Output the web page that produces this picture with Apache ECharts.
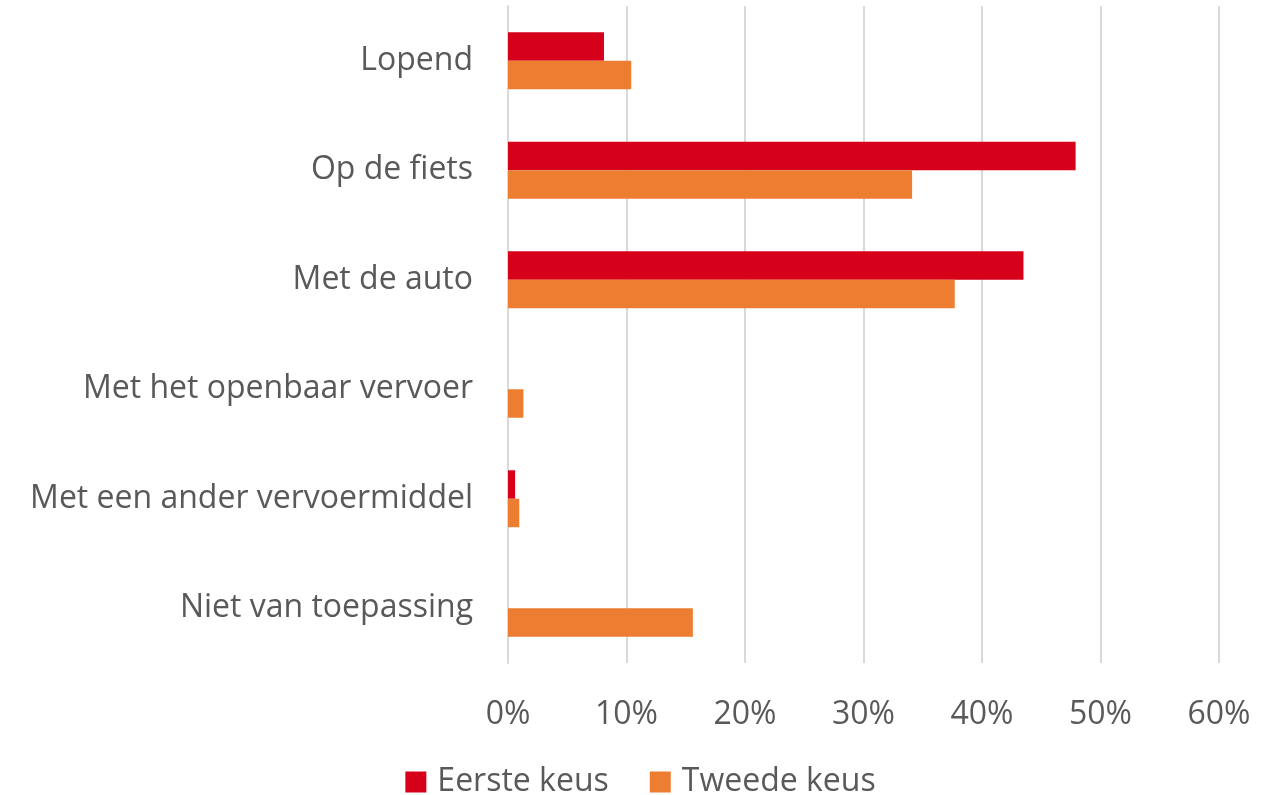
<!DOCTYPE html>
<html>
<head>
<meta charset="utf-8">
<script src="https://cdn.jsdelivr.net/npm/echarts@6/dist/echarts.min.js"></script>
<style>
  html, body { margin: 0; padding: 0; background: #fff; }
  #chart { width: 1281px; height: 795px; }
</style>
</head>
<body>
<div id="chart"></div>
<script>
	var categories = ['Lopend', 'Op de fiets', 'Met de auto', 'Met het openbaar vervoer', 'Met een ander vervoermiddel', 'Niet van toepassing'];
	var eersteKeus = [8.1, 47.9, 43.5, 0, 0.6, 0];
	var tweedeKeus = [10.4, 34.1, 37.7, 1.3, 0.95, 15.6];
	var xTicks = { min: 0, max: 60, interval: 10 };

	var fontFam = '"Open Sans", "Liberation Sans", sans-serif';

	var option = {
		animation: false,
		textStyle: { fontFamily: fontFam },
		grid: {
			top: 6,
			right: 62,
			bottom: 132,
			left: 508
		},
		legend: {
			bottom: -8,
			left: 'center',
			itemWidth: 21,
			itemHeight: 21,
			itemGap: 41,
			icon: 'rect',
			textStyle: { fontSize: 32, color: '#595959', fontFamily: fontFam, padding: [0, 0, 0, 6] },
			data: ['Eerste keus', 'Tweede keus']
		},
		xAxis: {
			type: 'value',
			min: xTicks.min,
			max: xTicks.max,
			interval: xTicks.interval,
			axisLine: { show: false },
			axisTick: { show: false },
			splitLine: { lineStyle: { color: '#d9d9d9', width: 2 } },
			axisLabel: {
				margin: 36,
				fontSize: 32,
				color: '#595959',
				formatter: '{value}%'
			}
		},
		yAxis: {
			type: 'category',
			inverse: true,
			data: categories,
			axisLine: { show: true, lineStyle: { color: '#d9d9d9', width: 2 } },
			axisTick: { show: false },
			axisLabel: {
				margin: 35,
				fontSize: 32,
				color: '#595959',
				padding: [5, 0, 0, 0]
			}
		},
		series: [
			{
				name: 'Eerste keus',
				type: 'bar',
				data: eersteKeus,
				barCategoryGap: '48%',
				barGap: '0%',
				itemStyle: { color: '#d7001a' }
			},
			{
				name: 'Tweede keus',
				type: 'bar',
				data: tweedeKeus,
				barCategoryGap: '48%',
				barGap: '0%',
				itemStyle: { color: '#ed7d31' }
			}
		]
	};

	var chart = echarts.init(document.getElementById('chart'));
	chart.setOption(option);
	window.addEventListener('resize', function () {
		chart.resize();
	});
</script>
</body>
</html>
